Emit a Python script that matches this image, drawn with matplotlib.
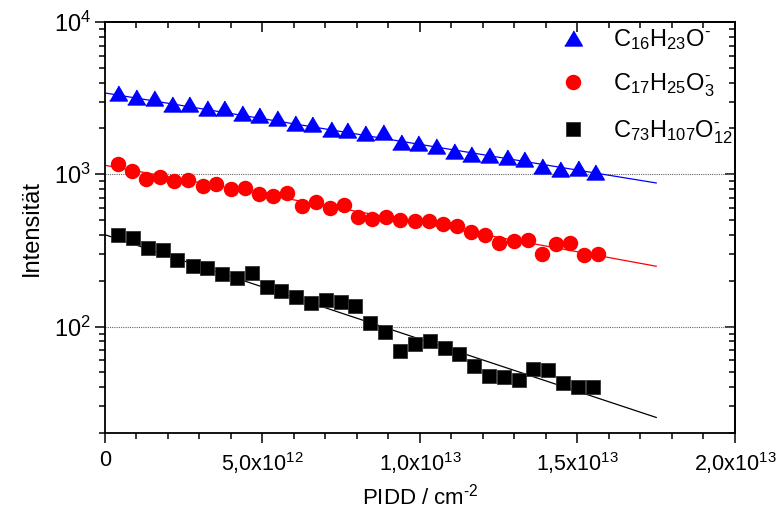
import matplotlib
matplotlib.use("Agg")
import matplotlib.pyplot as plt
import numpy as np
from matplotlib.ticker import MultipleLocator, LogLocator, NullFormatter

# PIDD in units of 1e12 cm^-2
x_c16 = [0.40, 0.98, 1.55, 2.12, 2.67, 3.23, 3.79, 4.34, 4.90, 5.47, 6.03, 6.58, 7.17, 7.69,
         8.25, 8.82, 9.39, 9.95, 10.51, 11.07, 11.63, 12.19, 12.75, 13.31, 13.88, 14.44, 15.01, 15.56]
y_c16 = [3437, 3211, 3162, 2887, 2887, 2705, 2730, 2520, 2445, 2346, 2188, 2123, 1986, 1956,
         1875, 1898, 1631, 1617, 1536, 1432, 1368, 1348, 1299, 1255, 1125, 1090, 1100, 1042]

x_c17 = [0.40, 0.85, 1.30, 1.75, 2.20, 2.65, 3.10, 3.54, 3.99, 4.44, 4.89, 5.34, 5.79, 6.24,
         6.69, 7.13, 7.58, 8.03, 8.48, 8.93, 9.38, 9.83, 10.28, 10.72, 11.17, 11.62, 12.07, 12.52,
         12.97, 13.42, 13.87, 14.31, 14.76, 15.21, 15.66]
y_c17 = [1176, 1051, 931, 960, 903, 923, 843, 869, 800, 818, 746, 717, 753, 616,
         657, 597, 625, 524, 511, 524, 504, 491, 493, 474, 457, 417, 399, 353,
         364, 368, 298, 346, 353, 295, 298]

x_c73 = [0.42, 0.89, 1.36, 1.83, 2.30, 2.78, 3.25, 3.72, 4.19, 4.66, 5.13, 5.60, 6.07, 6.54,
         7.01, 7.48, 7.95, 8.42, 8.89, 9.36, 9.83, 10.31, 10.78, 11.25, 11.72, 12.19, 12.66, 13.13,
         13.60, 14.07, 14.54, 15.01, 15.48]
y_c73 = [399, 381, 327, 316, 275, 248, 243, 220, 209, 226, 181, 171, 156, 143,
         150, 145, 137, 106, 91.6, 68.8, 76.9, 80.0, 72.4, 66.1, 55.4, 47.6, 46.4, 44.6,
         52.7, 51.9, 42.4, 40.3, 40.3]

# exponential fits, end points
fit_x = [0, 17.5]
fit_c16 = [3420, 877]
fit_c17 = [1146, 249]
fit_c73 = [401, 25.3]

labels = ["$\\mathregular{C_{16}H_{23}O^{\u2010}}$",
          "$\\mathregular{C_{17}H_{25}O_{3}^{\u2010}}$",
          "$\\mathregular{C_{73}H_{107}O_{12}^{\u2010}}$"]
xtick_vals = [0, 5, 10, 15, 20]
xtick_labels = ["0", r"$\mathregular{5{,}0x10^{12}}$", r"$\mathregular{1{,}0x10^{13}}$",
                r"$\mathregular{1{,}5x10^{13}}$", r"$\mathregular{2{,}0x10^{13}}$"]

regular = ["Liberation Sans", "DejaVu Sans"]

e12 = 1e12
tri = [(-1, -0.85), (1, -0.85), (0, 0.85)]

fig = plt.figure(figsize=(7.77, 5.19), dpi=100)
ax = fig.add_axes([0.1351, 0.1657, 0.8108, 0.7919])
ax.set_yscale("log")
ax.set_xlim(0, 2e13)
ax.set_ylim(20, 1e4)

for yv in [1e2, 1e3]:
    ax.axhline(yv, color="#666666", ls=(0, (1, 1)), lw=0.8, zorder=1)

fx = [v * e12 for v in fit_x]
ax.plot(fx, fit_c16, color="blue", lw=0.9, zorder=2)
ax.plot(fx, fit_c17, color="red", lw=0.9, zorder=2)
ax.plot(fx, fit_c73, color="black", lw=0.9, zorder=2)

h1, = ax.plot([v * e12 for v in x_c16], y_c16, ls="none", marker=tri, ms=12.7,
              color="blue", mec="blue", zorder=3)
h2, = ax.plot([v * e12 for v in x_c17], y_c17, ls="none", marker="o", ms=10.1,
              color="red", mec="red", zorder=3)
h3, = ax.plot([v * e12 for v in x_c73], y_c73, ls="none", marker="s", ms=10.1,
              color="black", mec="#333333", mew=0.6, zorder=3)

ax.set_xticks([v * e12 for v in xtick_vals], labels=xtick_labels)
ax.xaxis.set_minor_locator(MultipleLocator(1e12))
ax.set_yticks([1e2, 1e3, 1e4], labels=[r"$\mathregular{10^{2}}$", r"$\mathregular{10^{3}}$",
                                        r"$\mathregular{10^{4}}$"])
ax.yaxis.set_minor_locator(LogLocator(base=10, subs=np.arange(2, 10)))
ax.yaxis.set_minor_formatter(NullFormatter())

for lab in ax.get_xticklabels():
    lab.set_family(regular)
    lab.set_fontsize(15.5)
for lab in ax.get_yticklabels():
    lab.set_family(regular)
    lab.set_fontsize(17)

ax.tick_params(which="both", direction="out", width=1.1, colors="black")
ax.tick_params(which="major", length=7)
ax.tick_params(which="minor", length=4)
ax.tick_params(axis="x", pad=5)
ax.tick_params(axis="y", pad=3)

top = ax.secondary_xaxis("top")
top.set_xticks([v * e12 for v in xtick_vals])
top.xaxis.set_minor_locator(MultipleLocator(1e12))
top.tick_params(which="both", direction="in", labeltop=False, width=1.1)
top.tick_params(which="major", length=7)
top.tick_params(which="minor", length=4)

right = ax.secondary_yaxis("right")
right.set_yticks([1e2, 1e3, 1e4])
right.yaxis.set_minor_locator(LogLocator(base=10, subs=np.arange(2, 10)))
right.yaxis.set_minor_formatter(NullFormatter())
right.tick_params(which="both", direction="in", labelright=False, width=1.1)
right.tick_params(which="major", length=7)
right.tick_params(which="minor", length=4)

for sp in list(ax.spines.values()) + [top.spines["top"], right.spines["right"]]:
    sp.set_linewidth(1.3)

ax.set_xlabel("PIDD / cm$\\mathregular{^{\u20102}}$", family=regular,
              fontsize=16, labelpad=6)
ax.set_ylabel("Intensität", family=regular, fontsize=17, labelpad=8)

leg = ax.legend([h1, h2, h3], labels, loc="upper left", bbox_to_anchor=(0.722, 0.948),
                bbox_transform=fig.transFigure, frameon=False, borderpad=0, borderaxespad=0,
                handlelength=1.0, handletextpad=1.2, labelspacing=0.82,
                prop={"family": regular, "size": 17})

fig.savefig("out.png", dpi=100)
